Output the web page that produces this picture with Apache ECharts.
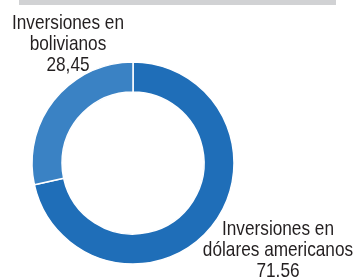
<!DOCTYPE html>
<html>
<head>
<meta charset="utf-8">
<script src="https://cdn.jsdelivr.net/npm/echarts@6/dist/echarts.min.js"></script>
<style>
  html, body { margin: 0; padding: 0; background: #fff; }
  #main { width: 354px; height: 277px; }
</style>
</head>
<body>
<div id="main"></div>
<script>
// data
var categories = ['Inversiones en\ndólares americanos', 'Inversiones en\nbolivianos'];
var values = [71.56, 28.45];
var valueLabels = ['71.56', '28,45'];
var colors = ['#1f6eb8', '#3a82c4'];

// where each label block sits (top-center), narrow font is faked with scaleX
var labelPos = [
  { x: 278, y: 219 },
  { x: 68, y: 13 }
];

var myChart = echarts.init(document.getElementById('main'));

var labels = categories.map(function (c, i) {
  return {
    type: 'text',
    x: labelPos[i].x,
    y: labelPos[i].y,
    scaleX: 0.82,
    z: 10,
    style: {
      text: c + '\n' + valueLabels[i],
      font: '21px "Liberation Sans", Arial, sans-serif',
      lineHeight: 21,
      fill: '#231f20',
      textAlign: 'center',
      textVerticalAlign: 'top'
    }
  };
});

var option = {
  animation: false,
  graphic: [
    {
      type: 'rect',
      shape: { x: 19, y: 0, width: 317, height: 5 },
      style: { fill: '#d1d2d4' }
    }
  ].concat(labels),
  series: [
    {
      type: 'pie',
      center: [133, 163],
      radius: [71, 101],
      startAngle: 90,
      clockwise: true,
      data: categories.map(function (c, i) {
        return { name: c, value: values[i], itemStyle: { color: colors[i] } };
      }),
      itemStyle: { borderColor: '#fff', borderWidth: 1.5 },
      label: { show: false },
      labelLine: { show: false },
      emphasis: { disabled: true }
    }
  ]
};
myChart.setOption(option);
</script>
</body>
</html>
